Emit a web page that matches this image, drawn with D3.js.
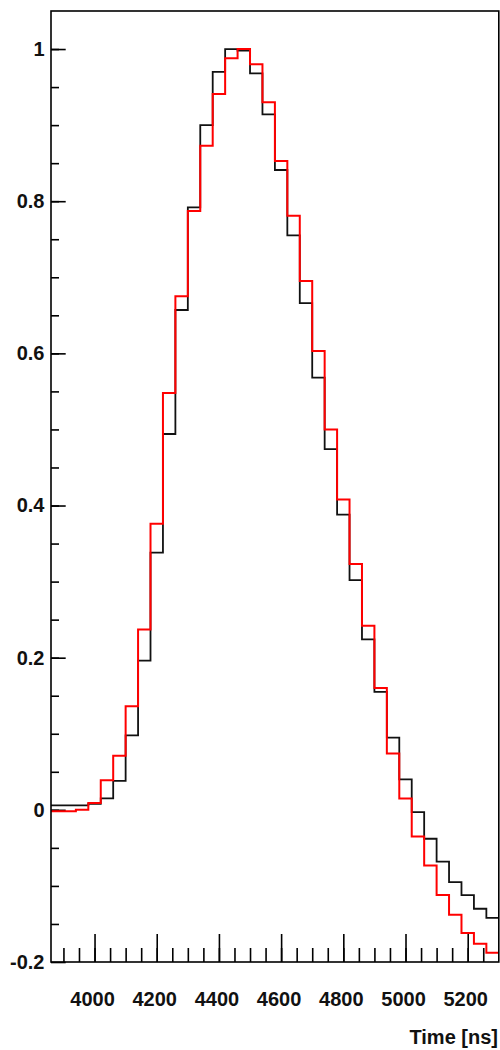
<!DOCTYPE html>
<html>
<head>
<meta charset="utf-8">
<script src="https://cdn.jsdelivr.net/npm/d3@7"></script>
<style>
  body { margin: 0; background: #fff; }
  svg { display: block; }
  .tick text { font-family: "Liberation Sans", Arial, sans-serif; font-weight: bold; font-size: 20px; fill: #111; }
</style>
</head>
<body>
<svg id="chart"></svg>
<script>
// bin low edges (ns), 40 ns wide
const binStarts = [3860, 3900, 3940, 3980, 4020, 4060, 4100, 4140, 4180, 4220, 4260, 4300,
  4340, 4380, 4420, 4460, 4500, 4540, 4580, 4620, 4660, 4700, 4740, 4780,
  4820, 4860, 4900, 4940, 4980, 5020, 5060, 5100, 5140, 5180, 5220, 5260];
const binWidth = 40;

const blackValues = [0.006, 0.006, 0.006, 0.008, 0.015, 0.038, 0.098, 0.196, 0.338, 0.494, 0.657, 0.792,
  0.900, 0.970, 1.000, 0.998, 0.968, 0.914, 0.841, 0.755, 0.666, 0.568, 0.474, 0.388,
  0.302, 0.224, 0.155, 0.095, 0.040, -0.003, -0.038, -0.068, -0.095, -0.112, -0.130, -0.142];

const redValues = [-0.002, -0.002, 0.000, 0.009, 0.039, 0.071, 0.136, 0.237, 0.376, 0.548, 0.675, 0.787,
  0.873, 0.941, 0.988, 1.000, 0.980, 0.930, 0.853, 0.781, 0.695, 0.603, 0.500, 0.408,
  0.323, 0.242, 0.160, 0.074, 0.015, -0.035, -0.073, -0.112, -0.138, -0.162, -0.176, -0.188];

const xTickValues = [4000, 4200, 4400, 4600, 4800, 5000, 5200];
const yTickValues = [-0.2, 0, 0.2, 0.4, 0.6, 0.8, 1];
const yTickLabels = ["-0.2", "0", "0.2", "0.4", "0.6", "0.8", "1"];
const xTitle = "Time [ns]";

const width = 500, height = 1050;
const frame = { left: 51, right: 498.8, top: 11, bottom: 962 };

const svg = d3.select("#chart").attr("width", width).attr("height", height);

const x = d3.scaleLinear().domain([3860, 5300]).range([frame.left, frame.right]);
const y = d3.scaleLinear().domain([-0.2, 1.05]).range([frame.bottom, frame.top]);

// x axis, ticks pointing inward
const xMajor = d3.axisBottom(x).tickValues(xTickValues).tickSize(-28).tickPadding(30)
  .tickFormat(d3.format("d"));
const xMinor = d3.axisBottom(x).tickValues(d3.range(3900, 5300, 50)).tickSize(-14).tickFormat("");

svg.append("g").attr("transform", `translate(0,${frame.bottom})`).call(xMinor);
const gx = svg.append("g").attr("transform", `translate(0,${frame.bottom})`).call(xMajor);
gx.selectAll(".tick text").attr("dx", -2.5);

// y axis
const yMajor = d3.axisLeft(y).tickValues(yTickValues).tickSize(-14.7).tickPadding(6.5)
  .tickFormat((d, i) => yTickLabels[i]);
const yMinor = d3.axisLeft(y).tickValues(d3.range(-0.15, 1.05, 0.05)).tickSize(-8).tickFormat("");

svg.append("g").attr("transform", `translate(${frame.left},0)`).call(yMinor);
svg.append("g").attr("transform", `translate(${frame.left},0)`).call(yMajor);

svg.selectAll(".domain").remove();
svg.selectAll(".tick line").attr("stroke", "#000").attr("stroke-width", 1.6);

// histograms as steps
const stepLine = d3.line()
  .x(d => x(d[0]))
  .y(d => y(d[1]))
  .curve(d3.curveStepAfter);

const stepPoints = vals => {
  const pts = binStarts.map((b, i) => [b, vals[i]]);
  pts.push([binStarts[binStarts.length - 1] + binWidth, vals[vals.length - 1]]);
  return pts;
};

svg.append("path")
  .attr("d", stepLine(stepPoints(blackValues)))
  .attr("fill", "none")
  .attr("stroke", "#111")
  .attr("stroke-width", 1.8);

svg.append("path")
  .attr("d", stepLine(stepPoints(redValues)))
  .attr("fill", "none")
  .attr("stroke", "#ff0000")
  .attr("stroke-width", 2);

// frame
svg.append("rect")
  .attr("x", frame.left).attr("y", frame.top)
  .attr("width", frame.right - frame.left).attr("height", frame.bottom - frame.top)
  .attr("fill", "none").attr("stroke", "#000").attr("stroke-width", 1.6);

svg.append("text")
  .attr("x", 498).attr("y", 1044)
  .attr("text-anchor", "end")
  .attr("font-family", "Liberation Sans, Arial, sans-serif")
  .attr("font-weight", "bold")
  .attr("font-size", 20)
  .attr("fill", "#111")
  .text(xTitle);
</script>
</body>
</html>
